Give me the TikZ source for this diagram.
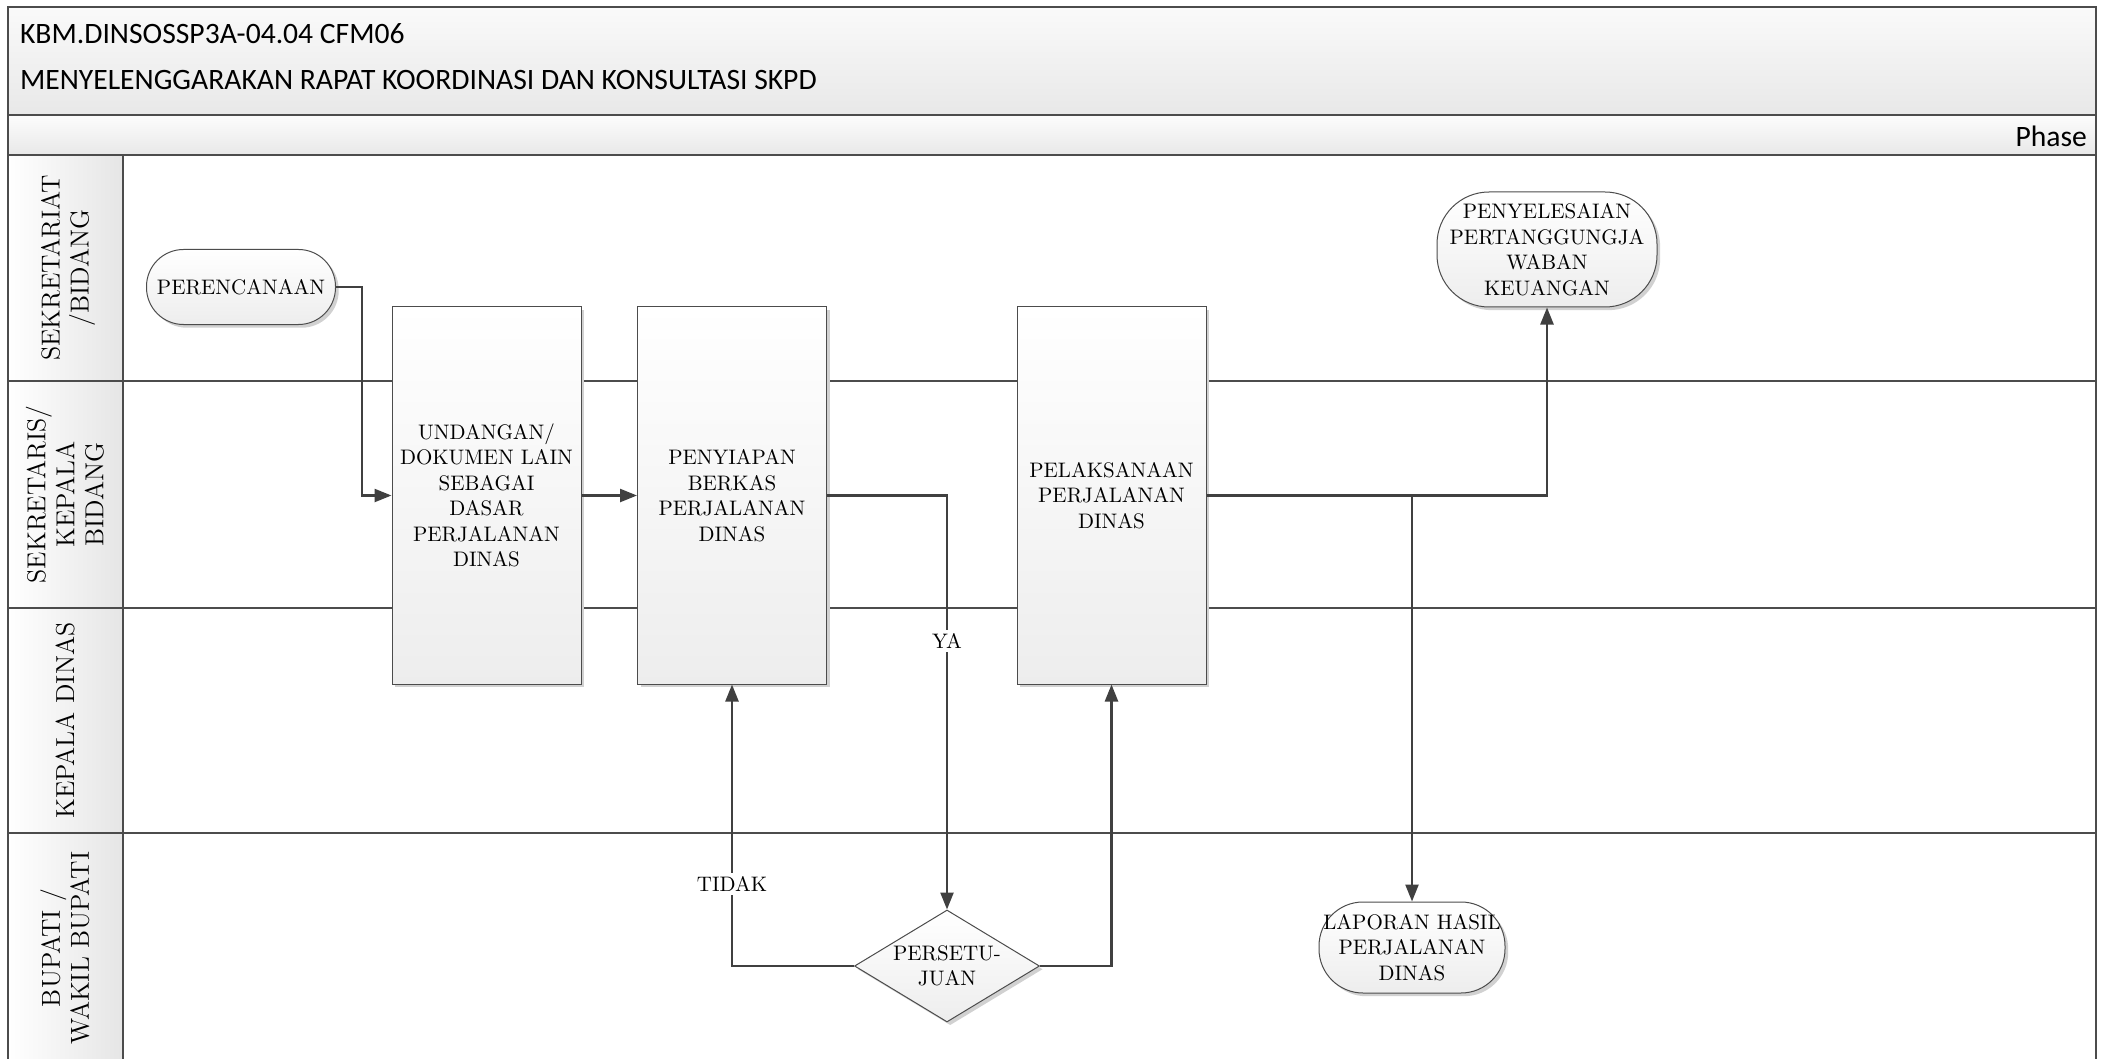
\documentclass[tikz,border=0pt]{standalone}
\usepackage{fontspec}
\newfontfamily\hdr{Carlito}
\usetikzlibrary{arrows.meta,shapes.geometric,shadows,calc}
\begin{document}
\begin{tikzpicture}[x=0.5pt,y=-0.5pt,
  lanecol/.style={black!70},
  boxtxt/.style={font=\fontsize{10.5}{12.75}\selectfont, align=center, text=black},
  shd/.style={drop shadow={shadow xshift=1.6pt, shadow yshift=-1.6pt, fill=black!18, opacity=1}},
  proc/.style={boxtxt, shd, draw=black!70, line width=0.5pt, top color=white, bottom color=black!7,
    minimum width=94.5pt, minimum height=188.5pt, inner sep=2pt},
  term/.style={boxtxt, shd, draw=black!70, line width=0.5pt, top color=white, bottom color=black!7, inner sep=1pt},
  dec/.style={boxtxt, shd, diamond, aspect=1.65, draw=black!70, line width=0.5pt, top color=white, bottom color=black!7,
    minimum width=92.5pt, minimum height=56pt, inner sep=0pt},
  conn/.style={draw=black!75, line width=1.2pt, -{Triangle[length=8.5pt,width=6.5pt]}},
  lbl/.style={boxtxt, fill=white, inner sep=1.5pt},
  lanelab/.style={font=\fontsize{13}{14.5}\selectfont, align=center, rotate=90, text=black},
  hdrtxt/.style={font=\hdr\fontsize{14.8}{16}\selectfont}
]
\useasboundingbox (0,0) rectangle (2104,1059);
\fill[white] (0,0) rectangle (2104,1059);
% header
\shade[top color=black!2, bottom color=black!9] (8,7) rectangle (2096,115);
\shade[top color=black!1, bottom color=black!9] (8,115) rectangle (2096,155);
\node[hdrtxt, anchor=west] (t1) at (13,34) {KBM.DINSOSSP3A-04.04 CFM06};
\node[hdrtxt, anchor=west] (t2) at (13,80) {MENYELENGGARAKAN RAPAT KOORDINASI DAN KONSULTASI SKPD};
\node[hdrtxt, anchor=east] (ph) at (2094,136) {Phase};
% lane label cells
\shade[left color=white, right color=black!10] (8,155) rectangle (123,1059);
% lane lines
\draw[lanecol, line width=0.8pt] (8,155) -- (2096,155);
\draw[lanecol, line width=1pt] (8,115) -- (2096,115);
\foreach \yy in {381,608,833} \draw[lanecol, line width=0.8pt] (8,\yy) -- (2096,\yy);
\draw[lanecol, line width=0.8pt] (123,155) -- (123,1059);
\draw[black!70, line width=1.2pt] (8,1059) -- (8,7) -- (2096,7) -- (2096,1059);
% lane labels
\node[lanelab] (l1) at (68,268) {SEKRETARIAT\\/BIDANG};
\node[lanelab] (l2) at (65,494.5) {SEKRETARIS/\\KEPALA\\BIDANG};
\node[lanelab] (l3) at (65,720.5) {KEPALA DINAS};
\node[lanelab] (l4) at (65,948) {BUPATI /\\WAKIL BUPATI};
% nodes
\node[term, rounded corners=18.5pt, minimum width=94.5pt, minimum height=37.5pt] (pere) at (241,287) {PERENCANAAN};
\node[proc] (und) at (486.5,495.5) {UNDANGAN/\\DOKUMEN LAIN\\SEBAGAI\\DASAR\\PERJALANAN\\DINAS};
\node[proc] (peny) at (732,495.5) {PENYIAPAN\\BERKAS\\PERJALANAN\\DINAS};
\node[proc] (pel) at (1111.5,495.5) {PELAKSANAAN\\PERJALANAN\\DINAS};
\node[term, rounded corners=26pt, minimum width=110pt, minimum height=57.5pt] (pen) at (1547,249.5) {PENYELESAIAN\\PERTANGGUNGJA\\WABAN\\KEUANGAN};
\node[term, rounded corners=22pt, minimum width=93pt, minimum height=45.5pt] (lap) at (1412,947.5) {LAPORAN HASIL\\PERJALANAN\\DINAS};
\node[dec] (dia) at (947,966) {PERSETU-\\JUAN};
% connectors
\coordinate (c1) at (362,495.5);
\draw[conn] (pere.east) -| (c1) -- (und.west);
\draw[conn] (und.east) -- (peny.west);
\draw[conn] (peny.east) -| (dia.north);
\draw[conn] (dia.west) -| (peny.south);
\draw[conn] (dia.east) -| (pel.south);
\draw[conn] (pel.east) -| (pen.south);
\coordinate (j) at (lap.north |- pel.east);
\draw[conn] (j) -- (lap.north);
\node[lbl] (ya) at (947,641) {YA};
\node[lbl] (tdk) at (732,884) {TIDAK};
\end{tikzpicture}
\end{document}
